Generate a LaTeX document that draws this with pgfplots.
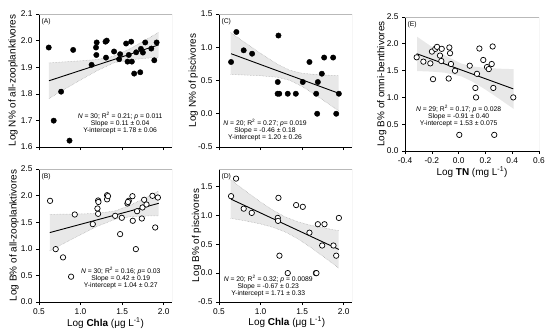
\documentclass[border=0pt]{standalone}
\usepackage{pgfplots}
\pgfplotsset{compat=1.18}
\usepackage{fontspec}
\setmainfont{Liberation Sans}

\pgfplotsset{
 panel/.style={
  scale only axis, width=133bp, height=133bp,
  axis x line*=bottom, axis y line*=left,
  axis line style={-, line width=0.6pt, black},
  tick align=outside, major tick length=3bp,
  tick style={line width=0.6pt, black},
  tick label style={font=\fontsize{8.4}{9}\selectfont},
  label style={font=\fontsize{8.6}{10}\selectfont},
  xmin=0.5, xmax=2.1, xtick={0.5,1.0,1.5,2.0},
  xticklabels={0.5,1.0,1.5,2.0},
  every axis x label/.style={at={(axis description cs:0.5,-0.158)}, anchor=center},
 },
 band/.style={fill=gray!18, draw=none},
 cib/.style={gray!70, densely dotted, line width=0.5pt},
 reg/.style={black, line width=0.9pt},
 filled/.style={only marks, mark=*, mark size=2.7bp, mark options={fill=black, draw=black}},
 open/.style={only marks, mark=*, mark size=2.7bp, mark options={fill=white, draw=black, line width=0.7pt}},
}
\newcommand{\frameTR}{\draw[gray!55, line width=0.5pt] (rel axis cs:0,1) -- (rel axis cs:1,1) -- (rel axis cs:1,0);}
\newcommand{\plab}[1]{\node[anchor=north west, font=\fontsize{6.8}{7}\selectfont, inner sep=1pt] at (rel axis cs:0.01,0.975) {#1};}
\newcommand{\annfont}{\fontsize{6.8}{7}\selectfont}

\begin{document}
\begin{tikzpicture}[x=1bp,y=1bp]
\path (0,0) rectangle (550,332);

% ---------------- (A)
\begin{axis}[panel, at={(39bp,185bp)}, anchor=south west,
  ymin=1.6, ymax=2.1, ytick={1.6,1.7,1.8,1.9,2.0,2.1},
  yticklabels={1.6,1.7,1.8,1.9,2.0,2.1}, xticklabels={,,,},
  ylabel={Log N\% of all-zooplanktivores},
  every axis y label/.style={at={(axis description cs:-0.195,0.5)}, rotate=90, anchor=center}]
\addplot[band] coordinates {(0.62,1.916) (0.8,1.920) (1.0,1.924) (1.2,1.929) (1.4,1.9415) (1.6,1.970) (1.8,2.006) (1.94,2.031)
  (1.94,1.937) (1.8,1.934) (1.6,1.928) (1.4,1.9165) (1.2,1.887) (1.0,1.852) (0.8,1.816) (0.62,1.782)} -- cycle;
\addplot[cib] coordinates {(0.62,1.916) (0.8,1.920) (1.0,1.924) (1.2,1.929) (1.4,1.9415) (1.6,1.970) (1.8,2.006) (1.94,2.031)};
\addplot[cib] coordinates {(0.62,1.782) (0.8,1.816) (1.0,1.852) (1.2,1.887) (1.4,1.9165) (1.6,1.928) (1.8,1.934) (1.94,1.937)};
\addplot[reg] coordinates {(0.62,1.849) (1.94,1.984)};
\addplot[filled] table {
0.617 1.974
0.677 1.699
0.766 1.808
0.867 1.624
0.911 1.965
1.133 1.909
1.194 1.993
1.186 1.974
1.190 1.946
1.300 1.996
1.315 2.000
1.306 1.936
1.403 1.959
1.464 1.930
1.476 1.949
1.548 1.989
1.565 1.921
1.580 1.946
1.609 1.996
1.617 1.921
1.645 1.876
1.669 1.956
1.718 1.881
1.726 1.969
1.750 1.955
1.778 1.993
1.851 1.970
1.887 1.926
1.915 1.993
};
\frameTR
\plab{(A)}
\node[font=\annfont, align=center] at (rel axis cs:0.61,0.18) {\textit{N} = 30; R\textsuperscript{2} = 0.21; \textit{p} = 0.011\\Slope = 0.11 ± 0.04\\Y-intercept = 1.78 ± 0.06};
\end{axis}

% ---------------- (B)
\begin{axis}[panel, at={(39bp,30bp)}, anchor=south west,
  ymin=0, ymax=2.5, ytick={0,0.5,1.0,1.5,2.0,2.5},
  yticklabels={0.0,0.5,1.0,1.5,2.0,2.5},
  ylabel={Log B\% of all-zooplanktivores},
  xlabel={Log \textbf{Chla} (μg L\textsuperscript{-1})},
  every axis y label/.style={at={(axis description cs:-0.188,0.5)}, rotate=90, anchor=center}]
\addplot[band] coordinates {(0.63,1.649) (0.8,1.650) (1.0,1.655) (1.2,1.666) (1.42,1.714) (1.6,1.821) (1.8,1.975) (1.94,2.089)
  (1.94,1.621) (1.8,1.617) (1.6,1.603) (1.42,1.558) (1.2,1.422) (1.0,1.265) (0.8,1.102) (0.63,0.961)} -- cycle;
\addplot[cib] coordinates {(0.63,1.649) (0.8,1.650) (1.0,1.655) (1.2,1.666) (1.42,1.714) (1.6,1.821) (1.8,1.975) (1.94,2.089)};
\addplot[cib] coordinates {(0.63,0.961) (0.8,1.102) (1.0,1.265) (1.2,1.422) (1.42,1.558) (1.6,1.603) (1.8,1.617) (1.94,1.621)};
\addplot[reg] coordinates {(0.63,1.305) (1.94,1.855)};
\addplot[open] table {
0.633 1.902
0.701 0.994
0.789 0.839
0.886 0.476
0.930 1.645
1.147 1.464
1.203 1.758
1.211 1.658
1.211 1.908
1.215 1.880
1.319 2.007
1.319 1.930
1.330 1.990
1.416 1.620
1.476 1.276
1.496 1.583
1.564 1.852
1.580 1.902
1.570 1.880
1.624 1.989
1.628 1.527
1.665 0.994
1.680 1.707
1.737 1.570
1.745 1.777
1.765 1.921
1.793 1.833
1.865 1.996
1.898 1.401
1.930 1.964
};
\frameTR
\plab{(B)}
\node[font=\annfont, align=center] at (rel axis cs:0.615,0.178) {\textit{N} = 30; R\textsuperscript{2} = 0.16; \textit{p}= 0.03\\Slope = 0.42 ± 0.19\\Y-intercept = 1.04 ± 0.27};
\end{axis}

% ---------------- (C)
\begin{axis}[panel, at={(219bp,185bp)}, anchor=south west,
  ymin=-0.5, ymax=1.5, ytick={-0.5,0,0.5,1.0,1.5},
  yticklabels={-0.5,0.0,0.5,1.0,1.5}, xticklabels={,,,},
  ylabel={Log N\% of piscivores},
  every axis y label/.style={at={(axis description cs:-0.193,0.5)}, rotate=90, anchor=center}]
\addplot[band] coordinates {(0.64,1.221) (0.8,1.081) (1.0,0.908) (1.2,0.747) (1.35,0.654) (1.5,0.609) (1.7,0.586) (1.94,0.573)
  (1.94,0.043) (1.7,0.250) (1.5,0.411) (1.35,0.504) (1.2,0.549) (1.0,0.572) (0.8,0.583) (0.64,0.591)} -- cycle;
\addplot[cib] coordinates {(0.64,1.221) (0.8,1.081) (1.0,0.908) (1.2,0.747) (1.35,0.654) (1.5,0.609) (1.7,0.586) (1.94,0.573)};
\addplot[cib] coordinates {(0.64,0.591) (0.8,0.583) (1.0,0.572) (1.2,0.549) (1.35,0.504) (1.5,0.411) (1.7,0.250) (1.94,0.043)};
\addplot[reg] coordinates {(0.645,0.903) (1.942,0.307)};
\addplot[filled] table {
0.645 0.778
0.709 1.230
0.797 0.954
0.898 0.903
1.215 1.176
1.207 0.477
1.205 0.301
1.225 0.301
1.327 0.301
1.424 0.301
1.508 0.477
1.588 0.778
1.669 0.301
1.689 0.477
1.681 0.000
1.737 0.602
1.765 0.845
1.873 0.845
1.910 0.000
1.942 0.301
};
\frameTR
\plab{(C)}
\node[font=\annfont, align=center] at (rel axis cs:0.346,0.126) {\textit{N} = 20; R\textsuperscript{2} = 0.27; \textit{p}= 0.019\\Slope = -0.46 ± 0.18\\Y-intercept = 1.20 ± 0.26};
\end{axis}

% ---------------- (D)
\begin{axis}[panel, at={(219bp,30bp)}, anchor=south west,
  ymin=-0.5, ymax=1.8, ytick={-0.5,0,0.5,1.0,1.5},
  yticklabels={-0.5,0.0,0.5,1.0,1.5},
  ylabel={Log B\% of piscivores},
  xlabel={Log \textbf{Chla} (μg L\textsuperscript{-1})},
  every axis x label/.style={at={(axis description cs:0.51,-0.15)}, anchor=center},
  every axis y label/.style={at={(axis description cs:-0.168,0.5)}, rotate=90, anchor=center}]
\addplot[band] coordinates {(0.64,1.614) (0.8,1.440) (1.0,1.230) (1.15,1.087) (1.3,0.969) (1.45,0.886) (1.6,0.828) (1.8,0.770) (1.94,0.734)
  (1.94,0.086) (1.8,0.238) (1.6,0.448) (1.45,0.592) (1.3,0.709) (1.15,0.792) (1.0,0.850) (0.8,0.908) (0.64,0.948)} -- cycle;
\addplot[cib] coordinates {(0.64,1.614) (0.8,1.440) (1.0,1.230) (1.15,1.087) (1.3,0.969) (1.45,0.886) (1.6,0.828) (1.8,0.770) (1.94,0.734)};
\addplot[cib] coordinates {(0.64,0.948) (0.8,0.908) (1.0,0.850) (1.15,0.792) (1.3,0.709) (1.45,0.592) (1.6,0.448) (1.8,0.238) (1.94,0.086)};
\addplot[reg] coordinates {(0.645,1.278) (1.942,0.409)};
\addplot[open] table {
0.645 1.330
0.705 1.634
0.797 1.114
0.894 1.041
1.215 1.301
1.207 0.954
1.210 0.903
1.227 0.301
1.327 0.000
1.428 1.176
1.508 1.146
1.588 0.699
1.665 0.000
1.672 0.000
1.689 0.845
1.741 0.477
1.769 0.845
1.877 0.477
1.910 0.301
1.942 0.954
};
\frameTR
\plab{(D)}
\node[font=\annfont, align=center] at (rel axis cs:0.37,0.118) {\textit{N} = 20; R\textsuperscript{2} = 0.32; \textit{p} = 0.0089\\Slope = -0.67 ± 0.23\\Y-intercept = 1.71 ± 0.33};
\end{axis}

% ---------------- (E)
\begin{axis}[panel, at={(405bp,181bp)}, anchor=south west, width=134bp, height=134bp,
  xmin=-0.4, xmax=0.6, xtick={-0.4,-0.2,0,0.2,0.4,0.6},
  xticklabels={-0.4,-0.2,0.0,0.2,0.4,0.6},
  ymin=0, ymax=2.5, ytick={0,0.5,1.0,1.5,2.0,2.5},
  yticklabels={0.0,0.5,1.0,1.5,2.0,2.5},
  ylabel={Log B\% of omni-benthivores},
  xlabel={Log \textbf{TN} (mg L\textsuperscript{-1})},
  every axis y label/.style={at={(axis description cs:-0.174,0.5)}, rotate=90, anchor=center}]
\addplot[band] coordinates {(-0.31,2.132) (-0.2,1.943) (-0.1,1.782) (0.02,1.632) (0.1,1.579) (0.2,1.550) (0.3,1.536) (0.41,1.527)
  (0.41,0.787) (0.3,0.978) (0.2,1.147) (0.1,1.299) (0.02,1.392) (-0.1,1.460) (-0.2,1.481) (-0.31,1.492)} -- cycle;
\addplot[reg] coordinates {(-0.313,1.815) (0.408,1.159)};
\addplot[open] table {
-0.313 1.748
-0.263 1.667
-0.211 1.635
-0.191 1.340
-0.199 1.855
-0.174 1.906
-0.161 1.943
-0.139 1.780
-0.126 1.906
-0.129 1.679
-0.074 1.352
-0.069 1.931
-0.064 1.824
-0.057 1.623
-0.027 1.497
0.083 1.591
0.125 1.176
0.130 1.000
0.137 1.440
0.155 1.912
0.184 1.698
0.212 1.566
0.225 1.528
0.247 1.623
0.254 1.950
0.259 1.176
0.005 0.301
0.266 0.301
0.408 1.000
};
\frameTR
\plab{(E)}
\node[font=\annfont, align=center] at (rel axis cs:0.40,0.261) {\textit{N} = 29; R\textsuperscript{2} = 0.17; \textit{p} = 0.028\\Slope = -0.91 ± 0.40\\Y-intercept = 1.53 ± 0.075};
\end{axis}
\end{tikzpicture}
\end{document}
